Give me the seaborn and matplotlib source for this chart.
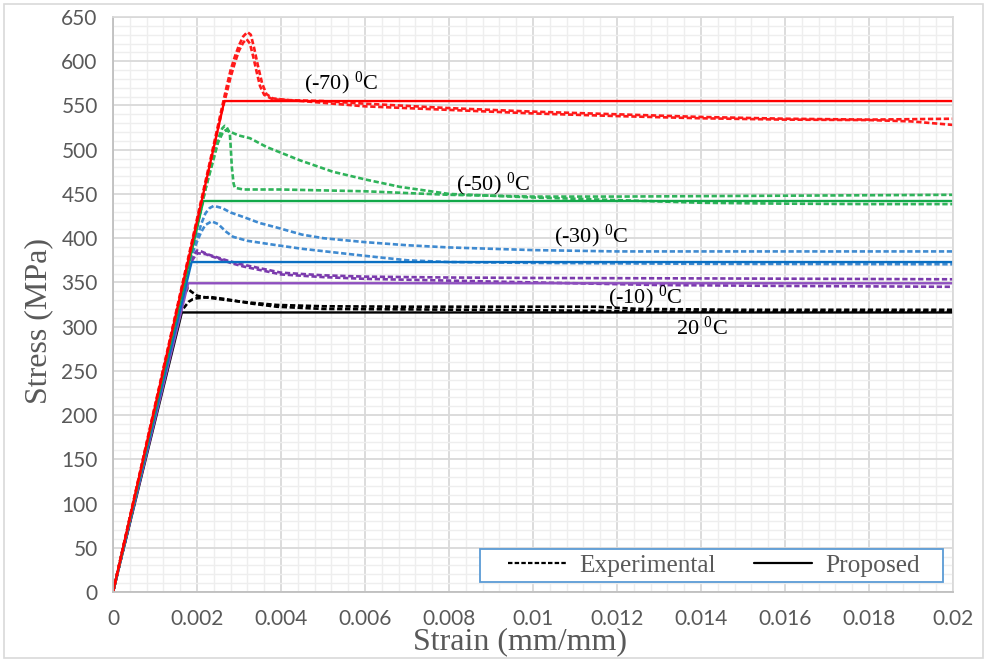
import numpy as np
import pandas as pd
import matplotlib
matplotlib.use("Agg")
import matplotlib.pyplot as plt
from matplotlib.patches import Rectangle
from matplotlib.ticker import MultipleLocator, FixedLocator
import seaborn as sns

# ---------------- data ----------------
temperatures = ["20", "(-10)", "(-30)", "(-50)", "(-70)"]

# proposed bilinear model: yield strain and yield stress (MPa)
proposed_yield_strain = [0.00164, 0.00179, 0.00187, 0.00215, 0.00265]
proposed_yield_stress = [316, 349, 373, 442, 555]
strain_end = 0.02

# experimental curves, two specimens per temperature
exp_20_a_strain = [0, 0.0016, 0.00172, 0.00178, 0.00185, 0.002, 0.00215, 0.0027, 0.0033, 0.0039, 0.005, 0.007, 0.0095, 0.0115, 0.0125, 0.015, 0.02]
exp_20_a_stress = [0, 325, 338, 344, 340, 335, 333.5, 330, 327, 324.5, 323, 322.5, 322.5, 322.5, 320, 319, 319]
exp_20_b_strain = [0, 0.0016, 0.00171, 0.0018, 0.0019, 0.00199, 0.00231, 0.0027, 0.0033, 0.0039, 0.005, 0.007, 0.01, 0.013, 0.016, 0.02]
exp_20_b_stress = [0, 316, 322.5, 328, 331, 332, 333.5, 331, 326, 322.5, 320, 319.5, 318.5, 317, 317, 317]

exp_m10_a_strain = [0, 0.0018, 0.0019, 0.002, 0.0021, 0.0023, 0.0027, 0.003, 0.0035, 0.004, 0.005, 0.006, 0.008, 0.01, 0.014, 0.02]
exp_m10_a_stress = [0, 368, 380, 386, 385, 381, 375, 371, 366, 361, 358, 356.5, 355.5, 355, 354.5, 353.5]
exp_m10_b_strain = [0, 0.0018, 0.0019, 0.002, 0.0022, 0.0025, 0.0028, 0.0031, 0.0035, 0.004, 0.005, 0.006, 0.008, 0.01, 0.013, 0.016, 0.02]
exp_m10_b_stress = [0, 365, 376, 383, 382, 377, 372, 368, 364, 359, 356, 354, 352, 350, 347, 346, 345]

exp_m30_a_strain = [0, 0.00185, 0.002, 0.0021, 0.0022, 0.0023, 0.0024, 0.0026, 0.0028, 0.0031, 0.0035, 0.0039, 0.0045, 0.005, 0.006, 0.007, 0.008, 0.01, 0.012, 0.016, 0.02]
exp_m30_a_stress = [0, 380, 400, 416, 428, 434, 436.5, 434, 429, 424, 417, 412, 404, 400, 395.5, 392, 389.5, 386.5, 385, 385, 385]
exp_m30_b_strain = [0, 0.00185, 0.002, 0.0021, 0.0022, 0.00235, 0.0025, 0.0027, 0.00286, 0.0032, 0.0039, 0.0045, 0.006, 0.007, 0.008, 0.01, 0.014, 0.02]
exp_m30_b_stress = [0, 378, 396, 407, 415, 419, 416, 407, 401.5, 397, 392, 388, 380, 375, 373, 372, 371, 370.5]

exp_m50_a_strain = [0, 0.0022, 0.0024, 0.0025, 0.0026, 0.00268, 0.0028, 0.003, 0.00326, 0.00366, 0.00445, 0.00524, 0.00604, 0.00683, 0.008, 0.01, 0.012, 0.014, 0.016, 0.018, 0.02]
exp_m50_a_stress = [0, 455, 490, 508, 518, 522, 520, 516, 513, 503, 488, 475, 466, 458, 450, 446, 443, 440, 439, 438.5, 438.5]
exp_m50_b_strain = [0, 0.0022, 0.0024, 0.0025, 0.0026, 0.00266, 0.0027, 0.00278, 0.0028, 0.00283, 0.00287, 0.0029, 0.0031, 0.004, 0.005, 0.006, 0.007, 0.008, 0.01, 0.012, 0.014, 0.016, 0.018, 0.02]
exp_m50_b_stress = [0, 455, 495, 512, 524, 527, 526, 519, 505, 480, 462, 457, 455, 455, 454, 453, 451, 449, 447, 447, 447.5, 448, 448.5, 449]

exp_m70_a_strain = [0, 0.0024, 0.0026, 0.0027, 0.0028, 0.0029, 0.003, 0.0031, 0.0032, 0.00328, 0.00336, 0.00345, 0.00355, 0.00365, 0.0038, 0.0042, 0.005, 0.006, 0.008, 0.01, 0.012, 0.014, 0.016, 0.018, 0.02]
exp_m70_a_stress = [0, 506, 549, 570, 590, 605, 618, 628, 633, 630, 615, 595, 575, 563, 558, 556, 555, 552, 547, 543, 540, 537, 535, 534, 535]
exp_m70_b_strain = [0, 0.0024, 0.0026, 0.0027, 0.0028, 0.0029, 0.003, 0.0031, 0.00318, 0.00326, 0.00334, 0.00342, 0.0035, 0.0036, 0.0038, 0.0045, 0.006, 0.008, 0.01, 0.012, 0.014, 0.016, 0.018, 0.019, 0.02]
exp_m70_b_stress = [0, 503, 545, 563, 582, 598, 612, 621, 625, 620, 605, 588, 572, 562, 557, 555, 549, 545, 541, 538, 535.5, 534, 533.5, 532, 528]

experimental = [
    [(exp_20_a_strain, exp_20_a_stress), (exp_20_b_strain, exp_20_b_stress)],
    [(exp_m10_a_strain, exp_m10_a_stress), (exp_m10_b_strain, exp_m10_b_stress)],
    [(exp_m30_a_strain, exp_m30_a_stress), (exp_m30_b_strain, exp_m30_b_stress)],
    [(exp_m50_a_strain, exp_m50_a_stress), (exp_m50_b_strain, exp_m50_b_stress)],
    [(exp_m70_a_strain, exp_m70_a_stress), (exp_m70_b_strain, exp_m70_b_stress)],
]

# label positions (strain, stress) for each temperature
label_pos = [(0.01402, 298), (0.01267, 333), (0.01138, 402), (0.00905, 461), (0.00543, 575)]

x_ticks = [0, 0.002, 0.004, 0.006, 0.008, 0.01, 0.012, 0.014, 0.016, 0.018, 0.02]
x_tick_labels = ["0", "0.002", "0.004", "0.006", "0.008", "0.01", "0.012", "0.014", "0.016", "0.018", "0.02"]
y_ticks = list(range(0, 651, 50))

# ---------------- style ----------------
sns.set_theme(style="white")
plt.rcParams["font.family"] = ["Liberation Serif", "DejaVu Serif"]
plt.rcParams["mathtext.fontset"] = "custom"
plt.rcParams["mathtext.rm"] = "Liberation Serif"
plt.rcParams["mathtext.it"] = "Liberation Serif:italic"

proposed_colors = ["#000000", "#8e4fbf", "#0a6fc2", "#12a84a", "#ff0000"]
exp_colors = ["#000000", "#7b3aad", "#3f8ad0", "#2fb35a", "#ff1a1a"]
dash = (2.0, 1.0)
lw_exp = 1.9
lw_pro = 1.7

fig = plt.figure(figsize=(9.87, 6.62), dpi=100)
ax = fig.add_axes([113 / 987, 1 - 592 / 662, 840 / 987, 575 / 662])

for i in range(len(temperatures)):
    for s, f in experimental[i]:
        sns.lineplot(x=s, y=f, ax=ax, sort=False, estimator=None,
                     color=exp_colors[i], lw=lw_exp)
        ax.lines[-1].set_dashes(dash)
    sns.lineplot(x=[0, proposed_yield_strain[i], strain_end],
                 y=[0, proposed_yield_stress[i], proposed_yield_stress[i]],
                 ax=ax, sort=False, estimator=None,
                 color=proposed_colors[i], lw=lw_pro)

for i, t in enumerate(temperatures):
    ax.text(label_pos[i][0], label_pos[i][1], t + r" $^{0}$C",
            ha="center", va="center", fontsize=16, color="black")

ax.set_xlim(0, 0.02)
ax.set_ylim(0, 650)
ax.xaxis.set_major_locator(FixedLocator(x_ticks))
ax.set_xticklabels(x_tick_labels)
ax.yaxis.set_major_locator(FixedLocator(y_ticks))
ax.set_yticklabels([str(v) for v in y_ticks])
ax.xaxis.set_minor_locator(MultipleLocator(0.0004))
ax.yaxis.set_minor_locator(MultipleLocator(10))
ax.grid(which="major", color="#d9d9d9", lw=1.3, zorder=0)
ax.grid(which="minor", color="#eeeeee", lw=1.0, zorder=0)
ax.set_axisbelow(True)
ax.tick_params(which="both", length=0)
ax.tick_params(axis="x", pad=12)
ax.tick_params(axis="y", pad=11)
for lab in ax.get_xticklabels() + ax.get_yticklabels():
    lab.set_fontfamily("Lato")
    lab.set_fontsize(15)
    lab.set_color("#595959")
for side in ["top", "right"]:
    ax.spines[side].set_color("#d9d9d9")
for side in ["left", "bottom"]:
    ax.spines[side].set_color("#bfbfbf")
    ax.spines[side].set_linewidth(1.3)

ax.set_xlabel("Strain (mm/mm)", fontsize=23, color="#595959")
ax.set_ylabel("Stress (MPa)", fontsize=23, color="#595959")
ax.xaxis.set_label_coords(0.4845, -0.061)
ax.yaxis.set_label_coords(-0.0714, 0.471)

# legend with a separate framed box
box = Rectangle((0.4369, 0.0174), 0.5512, 0.0574, transform=ax.transAxes,
                facecolor="white", edgecolor="#5b9bd5", lw=1.3, zorder=5)
ax.add_patch(box)
h_exp = plt.Line2D([], [], color="black", lw=1.6, dashes=dash)
h_pro = plt.Line2D([], [], color="black", lw=1.6)
leg = ax.legend([h_exp, h_pro], ["Experimental", "Proposed"], ncol=2,
                loc="center", bbox_to_anchor=(0.715, 0.046), frameon=False,
                fontsize=18.3, handlelength=2.3, handletextpad=0.5,
                columnspacing=1.5, labelcolor="#595959", borderpad=0)
leg.set_zorder(6)

fig.patches.append(Rectangle((4 / 987, 4 / 662), 979 / 987, 654 / 662,
                             transform=fig.transFigure, fill=False,
                             edgecolor="#d9d9d9", lw=1.2))

fig.savefig("out.png", dpi=100, facecolor="white")
